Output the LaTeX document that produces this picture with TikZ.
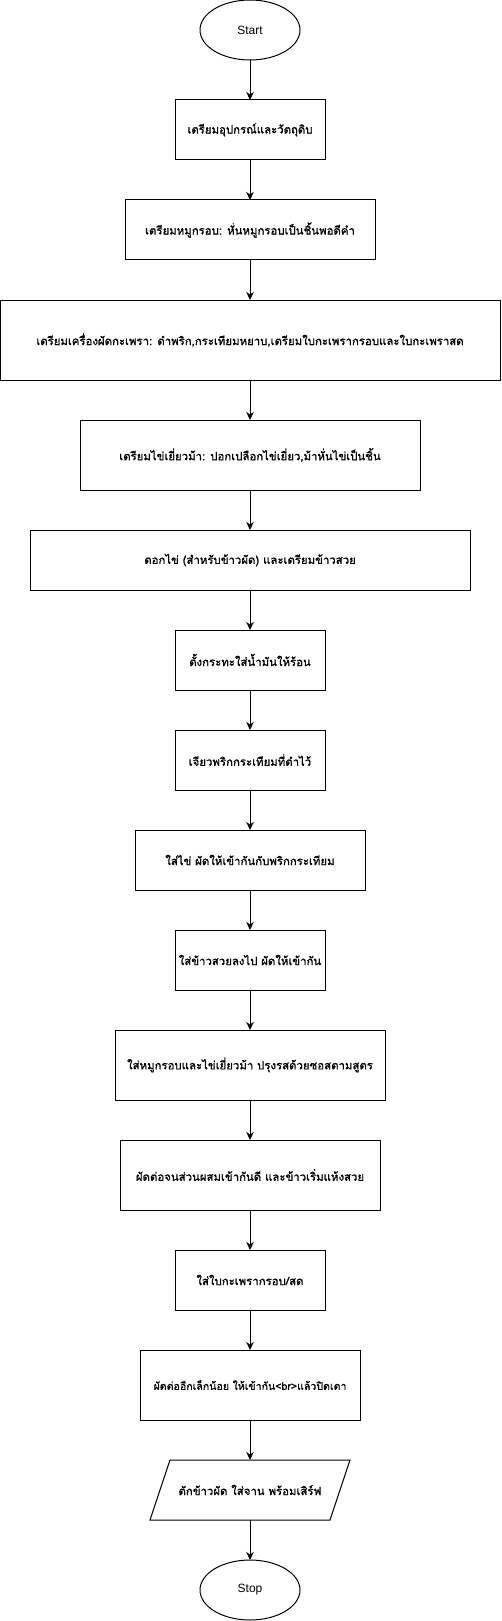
\documentclass[tikz,border=0pt]{standalone}
\usepackage{fontspec}
\setmainfont{Liberation Sans}
\newfontfamily\thaifont[Script=Thai,FakeBold=1]{Loma}
\usetikzlibrary{arrows.meta,shapes.geometric}
\begin{document}
\begin{tikzpicture}[x=1pt,y=-1pt,
  every node/.style={inner sep=0pt,outer sep=0pt},
  thaitext/.style={font=\thaifont\fontsize{11.4}{14}\selectfont},
  stepbox/.style={draw,line width=1pt,rectangle,align=center,thaitext},
  term/.style={draw,line width=1pt,ellipse,minimum width=100pt,minimum height=60pt,font=\fontsize{12}{14}\selectfont},
  flow/.style={line width=1pt,-{Stealth[length=8pt,width=7.5pt,inset=2.5pt]}}
]
\useasboundingbox (0,0) rectangle (501,1621);
\node[term] (start) at (250,30) {Start};
\node[stepbox,minimum width=150pt,minimum height=60pt] (b1) at (250,130) {เตรียมอุปกรณ์และวัตถุดิบ};
\node[stepbox,minimum width=250pt,minimum height=60pt] (b2) at (250,230) {เตรียมหมูกรอบ: หั่นหมูกรอบเป็นชิ้นพอดีคำ};
\node[stepbox,minimum width=500pt,minimum height=80pt] (b3) at (250,340) {เตรียมเครื่องผัดกะเพรา: ตำพริก,กระเทียมหยาบ,เตรียมใบกะเพรากรอบและใบกะเพราสด};
\node[stepbox,minimum width=340pt,minimum height=70pt] (b4) at (250,455) {เตรียมไข่เยี่ยวม้า: ปอกเปลือกไข่เยี่ยว,ม้าหั่นไข่เป็นชิ้น};
\node[stepbox,minimum width=440pt,minimum height=60pt] (b5) at (250,560) {ตอกไข่ (สำหรับข้าวผัด) และเตรียมข้าวสวย};
\node[stepbox,minimum width=150pt,minimum height=60pt] (b6) at (250,660) {ตั้งกระทะใส่น้ำมันให้ร้อน};
\node[stepbox,minimum width=150pt,minimum height=60pt] (b7) at (250,760) {เจียวพริกกระเทียมที่ตำไว้};
\node[stepbox,minimum width=230pt,minimum height=60pt] (b8) at (250,860) {ใส่ไข่ ผัดให้เข้ากันกับพริกกระเทียม};
\node[stepbox,minimum width=150pt,minimum height=60pt] (b9) at (250,960) {ใส่ข้าวสวยลงไป ผัดให้เข้ากัน};
\node[stepbox,minimum width=270pt,minimum height=70pt] (b10) at (250,1065) {ใส่หมูกรอบและไข่เยี่ยวม้า ปรุงรสด้วยซอสตามสูตร};
\node[stepbox,minimum width=260pt,minimum height=70pt] (b11) at (250,1175) {ผัดต่อจนส่วนผสมเข้ากันดี และข้าวเริ่มแห้งสวย};
\node[stepbox,minimum width=150pt,minimum height=60pt] (b12) at (250,1280) {ใส่ใบกะเพรากรอบ/สด};
\node[stepbox,minimum width=220pt,minimum height=70pt,font=\thaifont\fontsize{10.6}{14}\selectfont] (b13) at (250,1385) {ผัดต่ออีกเล็กน้อย ให้เข้ากัน<br>แล้วปิดเตา};
\node[rectangle,minimum width=200pt,minimum height=60pt,thaitext] (out) at (250,1490) {ตักข้าวผัด ใส่จาน พร้อมเสิร์ฟ};
\draw[line width=1pt,line join=miter] ([xshift=20pt]out.north west) -- (out.north east) -- ([xshift=-20pt]out.south east) -- (out.south west) -- cycle;
\node[term] (stop) at (250,1590) {Stop};
\draw[flow] (start) -- (b1);
\draw[flow] (b1) -- (b2);
\draw[flow] (b2) -- (b3);
\draw[flow] (b3) -- (b4);
\draw[flow] (b4) -- (b5);
\draw[flow] (b5) -- (b6);
\draw[flow] (b6) -- (b7);
\draw[flow] (b7) -- (b8);
\draw[flow] (b8) -- (b9);
\draw[flow] (b9) -- (b10);
\draw[flow] (b10) -- (b11);
\draw[flow] (b11) -- (b12);
\draw[flow] (b12) -- (b13);
\draw[flow] (b13) -- (out);
\draw[flow] (out) -- (stop);
\end{tikzpicture}
\end{document}
